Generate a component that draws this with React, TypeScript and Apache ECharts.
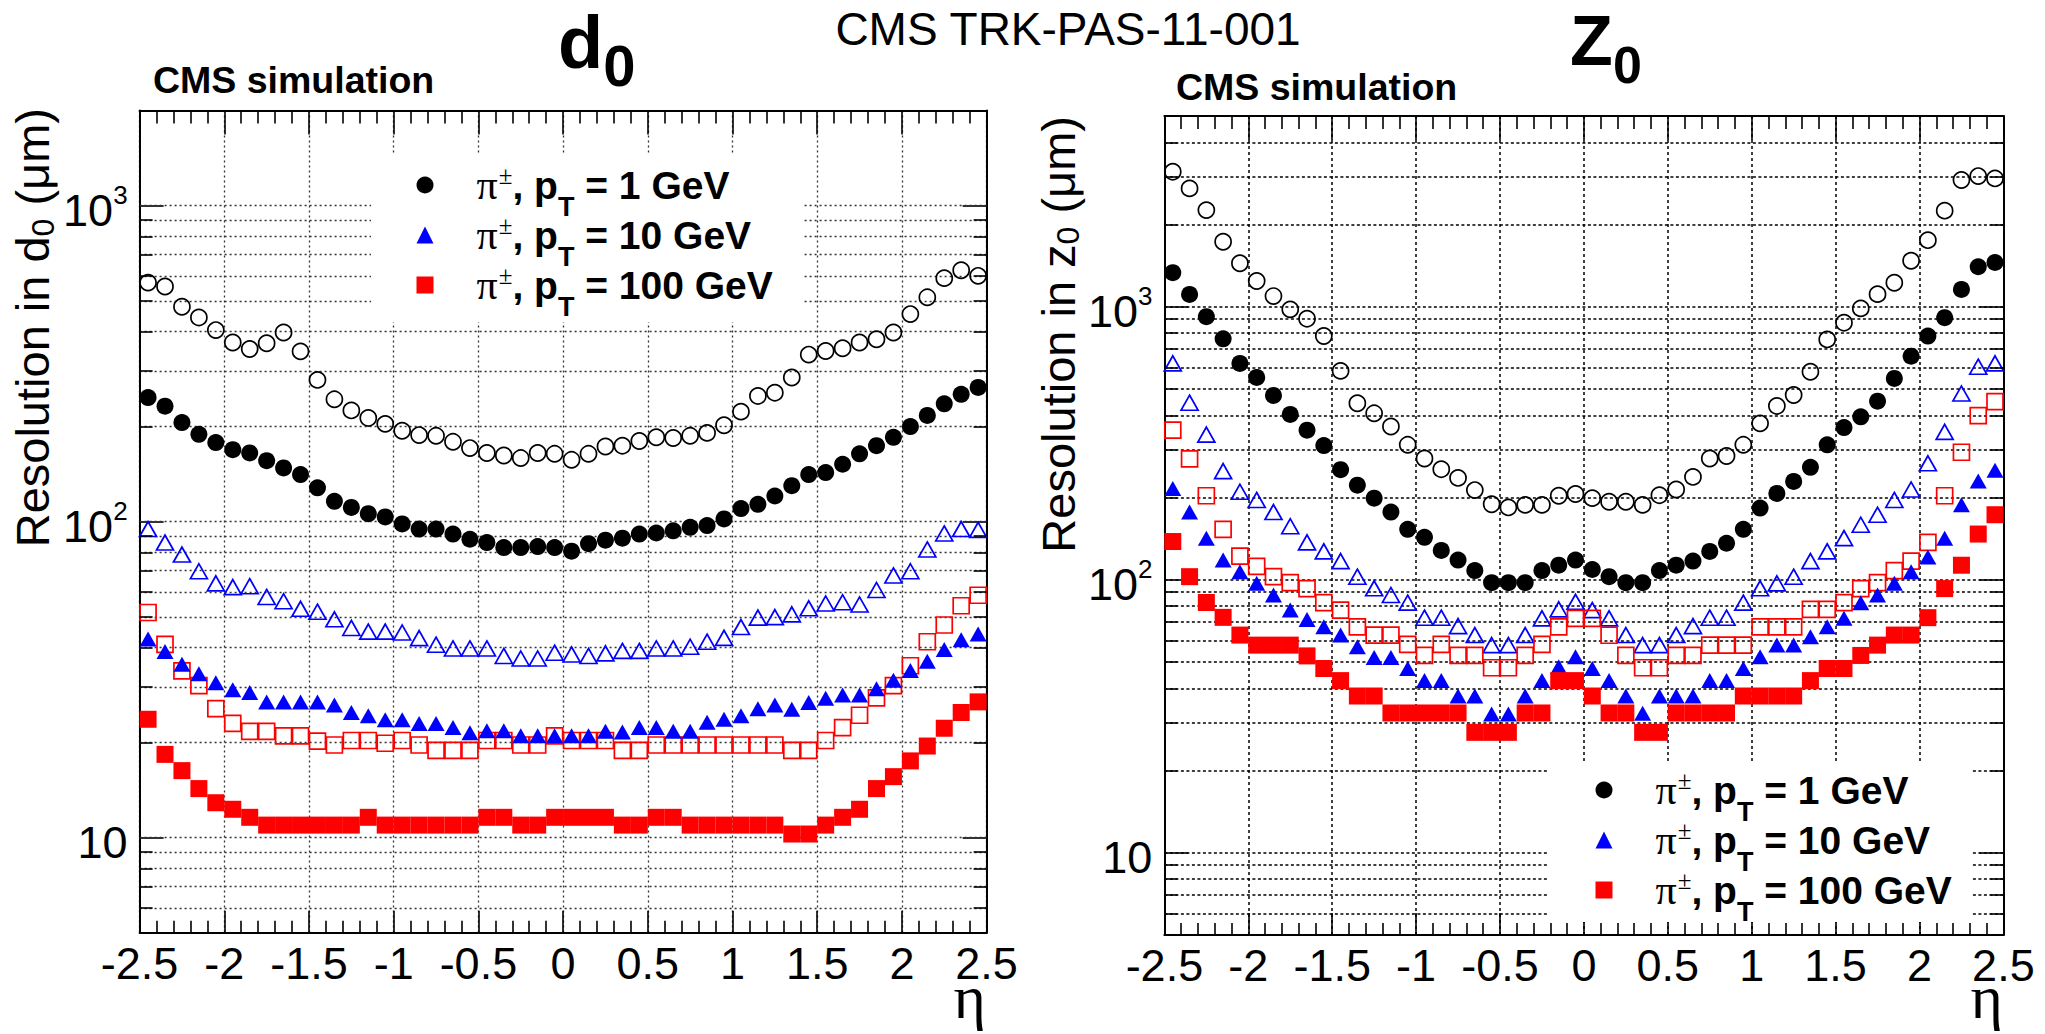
import React, { useEffect, useRef } from 'react';
import * as echarts from 'echarts';

const SANS = '"Liberation Sans", Arial, Helvetica, sans-serif';
const SERIF = '"Liberation Serif", "Times New Roman", serif';

// eta bin centres
const etaBins = [
  -2.45, -2.35, -2.25, -2.15, -2.05, -1.95, -1.85, -1.75, -1.65, -1.55,
  -1.45, -1.35, -1.25, -1.15, -1.05, -0.95, -0.85, -0.75, -0.65, -0.55,
  -0.45, -0.35, -0.25, -0.15, -0.05, 0.05, 0.15, 0.25, 0.35, 0.45,
  0.55, 0.65, 0.75, 0.85, 0.95, 1.05, 1.15, 1.25, 1.35, 1.45,
  1.55, 1.65, 1.75, 1.85, 1.95, 2.05, 2.15, 2.25, 2.35, 2.45,
];

// ---- d0 resolution (um) ----
const d0Pt1Open = [
  571, 555, 479, 443, 404, 369, 352, 367, 397, 346,
  281, 244, 225, 213, 204, 194, 188, 187, 179, 171,
  165, 162, 159, 165, 164, 157, 164, 173, 174, 180,
  185, 184, 187, 191, 202, 223, 250, 256, 286, 338,
  347, 354, 369, 378, 397, 454, 513, 590, 625, 600,
];
const d0Pt1Filled = [
  247, 232, 206, 189, 178, 169, 165, 156, 148, 141,
  128, 116, 111, 106, 103.5, 98.4, 94.8, 94.8, 91.4, 88,
  85.9, 82.8, 82.8, 83.4, 82.8, 80.7, 85.2, 87.4, 88.7, 91.4,
  92.1, 93.6, 96, 97.2, 102, 110, 113.5, 120.6, 130, 141,
  143, 152, 164, 174, 185, 200, 217, 236, 253, 266,
];
const d0Pt10Open = [
  94.8, 85.9, 78.7, 69.7, 63.8, 62.1, 62.5, 57.8, 56.0, 53.0,
  51.9, 49.1, 46.1, 44.9, 44.9, 44.6, 42.8, 40.8, 39.7, 39.7,
  39.7, 37.6, 36.9, 36.9, 38.5, 38.0, 37.6, 38.3, 39.0, 39.0,
  39.7, 39.7, 40.2, 41.7, 42.9, 46.4, 49.7, 49.9, 50.9, 53.2,
  55.1, 55.6, 54.7, 60.8, 67.6, 69.7, 81.7, 91.8, 94.8, 94.2,
];
const d0Pt10Filled = [
  42.5, 38.8, 35.4, 33.0, 30.9, 29.4, 28.8, 26.9, 26.9, 26.9,
  26.9, 26.3, 24.9, 24.3, 23.6, 23.6, 23.0, 23.0, 22.3, 21.5,
  21.8, 21.8, 21.0, 21.0, 21.0, 21.0, 21.0, 21.7, 21.6, 22.3,
  22.3, 21.7, 21.7, 23.2, 23.7, 24.3, 25.6, 26.3, 25.5, 26.8,
  27.6, 28.3, 28.3, 29.6, 31.5, 33.8, 36.2, 39.4, 42.3, 44.1,
];
const d0Pt100Open = [
  51.6, 40.9, 33.7, 30.3, 25.6, 23.0, 21.7, 21.7, 21.0, 21.0,
  20.2, 19.65, 20.3, 20.3, 19.9, 20.3, 19.65, 18.9, 18.9, 18.9,
  20.3, 20.3, 19.65, 19.65, 21.0, 20.3, 20.3, 20.3, 18.9, 18.9,
  19.65, 19.65, 19.65, 19.65, 19.65, 19.65, 19.65, 19.65, 18.9, 18.9,
  20.3, 22.3, 24.4, 27.7, 30.3, 35.0, 41.7, 47.1, 54.2, 58.5,
];
const d0Pt100Filled = [
  23.7, 18.35, 16.3, 14.3, 12.9, 12.3, 11.6, 10.96, 10.96, 10.96,
  10.96, 10.96, 10.96, 11.6, 10.96, 10.96, 10.96, 10.96, 10.96, 10.96,
  11.6, 11.6, 10.96, 10.96, 11.6, 11.6, 11.6, 11.6, 10.96, 10.96,
  11.6, 11.6, 10.96, 10.96, 10.96, 10.96, 10.96, 10.96, 10.27, 10.27,
  10.96, 11.6, 12.3, 14.3, 15.6, 17.5, 19.5, 22.2, 24.9, 26.9,
];

// ---- z0 resolution (um) ----
const z0Pt1Open = [
  3123, 2713, 2259, 1730, 1443, 1242, 1094, 978, 904, 781,
  582, 443, 407, 364, 312, 278, 254, 236, 213, 189,
  184, 188, 188, 203, 206, 199, 193, 193, 188, 204,
  214, 238, 278, 284, 312, 374, 433, 475, 578, 759,
  874, 986, 1112, 1224, 1474, 1753, 2248, 2912, 3010, 2951,
];
const z0Pt1Filled = [
  1332, 1109, 919, 763, 620, 551, 473, 403, 353, 310,
  253, 222, 199, 177, 153, 143, 128, 118, 108, 97.5,
  97.5, 97.5, 108, 113, 118, 109, 102.6, 97.5, 97.5, 108,
  113, 117, 127, 136, 153, 183, 207, 229, 258, 312,
  361, 395, 451, 546, 659, 781, 912, 1157, 1401, 1452,
];
const z0Pt10Open = [
  620, 445, 340, 250, 210, 196, 177, 157, 137, 127,
  117, 102.6, 93, 87.9, 82.4, 72.6, 72.6, 67.6, 62.7, 57.6,
  57.6, 62.7, 72.2, 77.9, 83.0, 77.4, 72.2, 62.7, 57.6, 57.6,
  62.7, 67.6, 72.6, 72.6, 82.4, 93, 97, 102.6, 117, 127,
  142, 159, 173, 196, 214, 267, 348, 481, 603, 620,
];
const z0Pt10Filled = [
  216, 177, 142, 118, 107, 97, 87.9, 77.4, 71.5, 67.2,
  62.7, 56.8, 51.9, 51.9, 47.3, 42.7, 42.7, 37.5, 37.5, 32.2,
  32.2, 37.5, 42.7, 48.0, 52.2, 47.3, 42.7, 37.5, 32.4, 37.5,
  37.5, 37.5, 42.7, 42.7, 47.3, 52.2, 57.6, 57.6, 61.8, 67.2,
  72.2, 82.4, 87.9, 97, 107, 121, 142, 188, 230, 252,
];
const z0Pt100Open = [
  353, 277, 203, 153, 122, 112, 102.6, 97.5, 92.7, 82.5,
  77.4, 67.2, 62.7, 62.7, 58, 52.8, 58, 52.8, 52.8, 47.6,
  47.6, 52.8, 58, 67.2, 72.2, 72.2, 62.6, 52.8, 47.6, 47.6,
  52.8, 52.8, 57.6, 57.6, 57.6, 67.2, 67.2, 67.2, 77.9, 77.9,
  82.4, 92.8, 97.5, 108, 117, 137, 203, 293, 399, 449,
];
const z0Pt100Filled = [
  138, 102.6, 82.5, 72.8, 62.7, 57.6, 57.6, 57.6, 52.6, 47.3,
  42.7, 37.5, 37.5, 32.5, 32.5, 32.5, 32.5, 32.5, 27.6, 27.6,
  27.6, 32.5, 32.5, 42.7, 42.7, 37.5, 32.5, 32.5, 27.6, 27.6,
  32.5, 32.5, 32.5, 32.5, 37.5, 37.5, 37.5, 37.5, 42.7, 47.3,
  47.3, 52.8, 57.6, 62.7, 62.7, 72.6, 92.8, 113, 147, 173,
];

// axis ticks / labels
const etaTickLabels = ['-2.5', '-2', '-1.5', '-1', '-0.5', '0', '0.5', '1', '1.5', '2', '2.5'];
const decadeValues = [10, 100, 1000];
const d0GridValues = [6, 7, 8, 9, 10, 20, 30, 40, 50, 60, 70, 80, 90, 100, 200, 300, 400, 500, 600, 700, 800, 900, 1000];
const z0GridValues = [6, 7, 8, 9, 10, 20, 30, 40, 50, 60, 70, 80, 90, 100, 200, 300, 400, 500, 600, 700, 800, 900, 1000, 2000, 3000, 4000];
const ptValues = ['1', '10', '100'];
const d0Names = ['d0 pT=1', 'd0 pT=10', 'd0 pT=100'];
const z0Names = ['z0 pT=1', 'z0 pT=10', 'z0 pT=100'];

const BLACK = '#000000';
const BLUE = '#0000ff';
const RED = '#ff0000';

function pts(ys: number[]) {
  return etaBins.map((x, i) => [x, ys[i]]);
}

function scatter(name: string, ys: number[], axis: number, symbol: string, size: any, color: string, filled: boolean, extra: any = {}) {
  return {
    type: 'scatter',
    name,
    xAxisIndex: axis,
    yAxisIndex: axis,
    data: pts(ys),
    symbol,
    symbolSize: size,
    itemStyle: filled
      ? { color, borderWidth: 0, opacity: 1 }
      : { color: 'rgba(255,255,255,0)', borderColor: color, borderWidth: 1.7, opacity: 1 },
    emphasis: { disabled: true },
    silent: true,
    z: 2,
    ...extra,
  };
}

function gridMarkLine(values: number[], color: string, width: number, dash: number[]) {
  return {
    silent: true,
    z: 1,
    symbol: ['none', 'none'],
    label: { show: false },
    emphasis: { disabled: true },
    lineStyle: { color, width, type: dash, opacity: 1 },
    data: values.map((v) => ({ yAxis: v })),
  };
}

function tickMarkLine(values: number[], len: number) {
  const data: any[] = [];
  values
    .filter((v) => decadeValues.indexOf(v) < 0)
    .forEach((v) => {
      data.push([{ coord: [-2.5, v] }, { coord: [-2.5 + len, v] }]);
      data.push([{ coord: [2.5 - len, v] }, { coord: [2.5, v] }]);
    });
  return {
    silent: true,
    z: 3,
    symbol: ['none', 'none'],
    label: { show: false },
    emphasis: { disabled: true },
    lineStyle: { color: BLACK, width: 1.6, type: 'solid', opacity: 1 },
    data,
  };
}

const frameLine = { color: BLACK, width: 2 };
const tickLine = { color: BLACK, width: 1.6 };

function xAxisBottom(gridIndex: number, gridColor: string, gridWidth: number, dash: number[]) {
  return {
    type: 'value',
    gridIndex,
    position: 'bottom',
    min: -2.5,
    max: 2.5,
    interval: 0.5,
    axisLine: { show: true, onZero: false, lineStyle: frameLine },
    axisTick: { show: true, inside: true, length: 22, lineStyle: tickLine },
    minorTick: { show: true, splitNumber: 5, length: 12, lineStyle: tickLine },
    axisLabel: {
      show: true,
      margin: 12.5,
      lineHeight: 36,
      color: BLACK,
      fontSize: 45,
      fontFamily: SANS,
      hideOverlap: false,
      formatter: (v: number) => {
        const idx = Math.round((v + 2.5) / 0.5);
        return etaTickLabels[idx] ?? '';
      },
    },
    splitLine: { show: true, lineStyle: { color: gridColor, width: gridWidth, type: dash } },
    minorSplitLine: { show: false },
    axisPointer: { show: false },
  };
}

function xAxisTop(gridIndex: number) {
  return {
    type: 'value',
    gridIndex,
    position: 'top',
    min: -2.5,
    max: 2.5,
    interval: 0.5,
    axisLine: { show: true, onZero: false, lineStyle: frameLine },
    axisTick: { show: true, inside: true, length: 24, lineStyle: tickLine },
    minorTick: { show: true, splitNumber: 5, length: 13, lineStyle: tickLine },
    axisLabel: { show: false },
    splitLine: { show: false },
    minorSplitLine: { show: false },
    axisPointer: { show: false },
  };
}

const powRich = {
  m: { fontSize: 45, fontFamily: SANS, color: BLACK },
  e: { fontSize: 26, fontFamily: SANS, color: BLACK, padding: [0, 0, 31, 0] },
};

function powLabel(v: number) {
  const n = Math.round(Math.log10(v));
  if (Math.abs(Math.log10(v) - n) > 1e-6 || decadeValues.indexOf(Math.pow(10, n)) < 0) return '';
  if (n === 1) return '{m|10}';
  return '{m|10}{e|' + n + '}';
}

function yAxisLeft(gridIndex: number, max: number) {
  return {
    type: 'log',
    logBase: 10,
    gridIndex,
    position: 'left',
    min: 5,
    max,
    axisLine: { show: true, onZero: false, lineStyle: frameLine },
    axisTick: { show: true, inside: true, length: 24, lineStyle: tickLine },
    minorTick: { show: false },
    axisLabel: {
      show: true,
      margin: 12,
      showMinLabel: false,
      showMaxLabel: false,
      padding: [10, 0, 0, 0],
      formatter: powLabel,
      rich: powRich,
    },
    splitLine: { show: false },
    minorSplitLine: { show: false },
    axisPointer: { show: false },
  };
}

function yAxisRight(gridIndex: number, max: number) {
  return {
    type: 'log',
    logBase: 10,
    gridIndex,
    position: 'right',
    min: 5,
    max,
    axisLine: { show: true, onZero: false, lineStyle: frameLine },
    axisTick: { show: true, inside: true, length: 24, lineStyle: tickLine },
    minorTick: { show: false },
    axisLabel: { show: false },
    splitLine: { show: false },
    minorSplitLine: { show: false },
    axisPointer: { show: false },
  };
}

const legendRich = {
  pi: { fontFamily: SERIF, fontSize: 42, color: BLACK, lineHeight: 40, padding: [0, 0, 0, 38] },
  pm: { fontFamily: SERIF, fontSize: 25, color: BLACK, lineHeight: 40, padding: [0, 0, 20, 1] },
  b: { fontFamily: SANS, fontWeight: 'bold', fontSize: 39, color: BLACK, lineHeight: 40 },
  t: { fontFamily: SANS, fontWeight: 'bold', fontSize: 27, color: BLACK, lineHeight: 40, padding: [44, 0, 0, 0] },
};

function legendFormatter(name: string) {
  let idx = d0Names.indexOf(name);
  if (idx < 0) idx = z0Names.indexOf(name);
  const pt = ptValues[idx] ?? '';
  return '{pi|\u03c0}{pm|\u00b1}{b|, p}{t|T}{b| = ' + pt + ' GeV}';
}

function makeLegend(names: string[], left: number, top: number) {
  return {
    data: names,
    orient: 'vertical',
    left,
    top,
    padding: 0,
    itemGap: -21,
    itemWidth: 17,
    itemHeight: 17,
    selectedMode: false,
    backgroundColor: 'transparent',
    z: 5,
    formatter: legendFormatter,
    textStyle: { color: BLACK, fontFamily: SANS, fontSize: 39, rich: legendRich },
  };
}

function textEl(text: string, x: number, y: number, font: string, align: string, extra: any = {}) {
  return {
    type: 'text',
    x,
    y,
    silent: true,
    z: 6,
    ...extra,
    style: {
      text,
      font,
      fill: BLACK,
      align,
      verticalAlign: 'middle',
      textAlign: align,
      textVerticalAlign: 'middle',
      ...(extra.style || {}),
    },
  };
}

const yTitleRich = {
  t: { fontFamily: SANS, fontSize: 47, fill: BLACK, color: BLACK },
  s: { fontFamily: SANS, fontSize: 32, fill: BLACK, color: BLACK, padding: [20, 0, 0, 0] },
};

function buildOption() {
  return {
    animation: false,
    backgroundColor: '#ffffff',
    textStyle: { fontFamily: SANS },
    tooltip: { show: false },
    grid: [
      { left: 139.6, top: 110.6, width: 847, height: 822.2, containLabel: false, outerBoundsMode: 'none', show: false },
      { left: 1164.4, top: 115.9, width: 839, height: 819, containLabel: false, outerBoundsMode: 'none', show: false },
    ],
    xAxis: [
      xAxisBottom(0, '#333333', 1.3, [2, 3]),
      xAxisTop(0),
      xAxisBottom(1, BLACK, 1.5, [3, 3]),
      xAxisTop(1),
    ],
    yAxis: [yAxisLeft(0, 2000), yAxisRight(0, 2000), yAxisLeft(1, 5000), yAxisRight(1, 5000)],
    legend: [makeLegend(d0Names, 416.5, 149.5), makeLegend(z0Names, 1595.5, 754.5)],
    graphic: [
      // legend boxes (white, borderless, as in ROOT)
      { type: 'rect', silent: true, z: 1.5, shape: { x: 371, y: 155, width: 432, height: 167 }, style: { fill: '#ffffff' } },
      { type: 'rect', silent: true, z: 1.5, shape: { x: 1548, y: 761, width: 424, height: 161 }, style: { fill: '#ffffff' } },
      textEl('CMS TRK-PAS-11-001', 1068, 28.5, '46px ' + SANS, 'center'),
      textEl('CMS simulation', 153, 80, 'bold 37.5px ' + SANS, 'left'),
      textEl('CMS simulation', 1176, 87, 'bold 37.5px ' + SANS, 'left'),
      // plot titles: d0 and Z0 (subscript drawn as its own text)
      textEl('d', 558, 42.6, 'bold 74px ' + SANS, 'left', { style: { lineHeight: 70 } }),
      textEl('0', 603.2, 65.9, 'bold 58px ' + SANS, 'left', { style: { lineHeight: 50 } }),
      textEl('Z', 1570, 40.8, 'bold 70px ' + SANS, 'left', { style: { lineHeight: 66 } }),
      textEl('0', 1613, 65, 'bold 52px ' + SANS, 'left', { style: { lineHeight: 46 } }),
      textEl('{t|Resolution in d}{s|0}{t| (\u03bcm)}', 32.7, 108, '47px ' + SANS, 'right', {
        rotation: Math.PI / 2,
        style: { rich: yTitleRich },
      }),
      textEl('{t|Resolution in z}{s|0}{t| (\u03bcm)}', 1058.3, 116, '47px ' + SANS, 'right', {
        rotation: Math.PI / 2,
        style: { rich: yTitleRich },
      }),
      textEl('\u03b7', 986, 997, '62px ' + SERIF, 'right', { style: { lineHeight: 24 } }),
      textEl('\u03b7', 2003, 997, '62px ' + SERIF, 'right', { style: { lineHeight: 24 } }),
    ],
    series: [
      // d0 plot
      scatter('d0 open 1', d0Pt1Open, 0, 'circle', 16, BLACK, false, { markLine: gridMarkLine(d0GridValues, '#333333', 1.3, [2, 3]) }),
      scatter(d0Names[0], d0Pt1Filled, 0, 'circle', 17, BLACK, true),
      scatter('d0 open 10', d0Pt10Open, 0, 'triangle', [17, 15], BLUE, false, { markLine: tickMarkLine(d0GridValues, 13 / 169.4) }),
      scatter('d0 open 100', d0Pt100Open, 0, 'rect', 16, RED, false),
      scatter(d0Names[1], d0Pt10Filled, 0, 'triangle', [17, 15], BLUE, true),
      scatter(d0Names[2], d0Pt100Filled, 0, 'rect', 17, RED, true),
      // z0 plot
      scatter('z0 open 1', z0Pt1Open, 2, 'circle', 16, BLACK, false, { markLine: gridMarkLine(z0GridValues, BLACK, 1.5, [3, 2.5]) }),
      scatter(z0Names[0], z0Pt1Filled, 2, 'circle', 17, BLACK, true),
      scatter('z0 open 10', z0Pt10Open, 2, 'triangle', [17, 15], BLUE, false, { markLine: tickMarkLine(z0GridValues, 13 / 167.8) }),
      scatter('z0 open 100', z0Pt100Open, 2, 'rect', 16, RED, false),
      scatter(z0Names[1], z0Pt10Filled, 2, 'triangle', [17, 15], BLUE, true),
      scatter(z0Names[2], z0Pt100Filled, 2, 'rect', 17, RED, true),
    ],
  };
}

export default function App() {
  const ref = useRef<HTMLDivElement>(null);
  useEffect(() => {
    document.body.style.margin = '0';
    const el = ref.current;
    if (!el) return;
    const chart = echarts.init(el, undefined, { renderer: 'svg' });
    chart.setOption(buildOption() as any);
    return () => {
      chart.dispose();
    };
  }, []);
  return (
    <div
      ref={ref}
      style={{ position: 'fixed', left: 0, top: 0, width: 2045, height: 1034, background: '#ffffff' }}
    />
  );
}
